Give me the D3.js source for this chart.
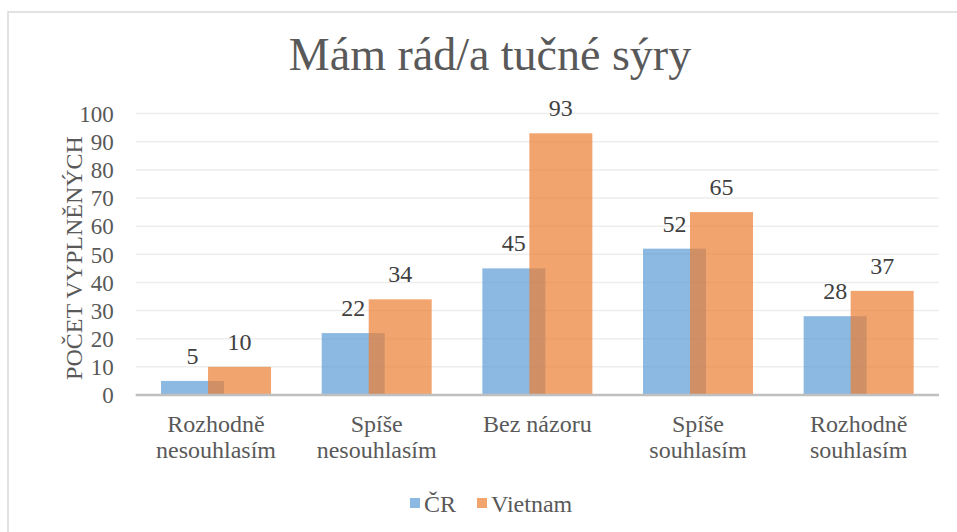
<!DOCTYPE html>
<html><head><meta charset="utf-8">
<script src="https://cdn.jsdelivr.net/npm/d3@7"></script>
<style>body{margin:0;background:#fff}svg{display:block}svg text{font-family:"Liberation Serif","Times New Roman",serif}</style>
</head><body>
<script>
const categories = [["Rozhodně","nesouhlasím"],["Spíše","nesouhlasím"],["Bez názoru"],["Spíše","souhlasím"],["Rozhodně","souhlasím"]];
const seriesNames = ["ČR","Vietnam"];
const cr = [5,22,45,52,28];
const vietnam = [10,34,93,65,37];
const yTicks = [0,10,20,30,40,50,60,70,80,90,100];
const colors = ["#5B9BD5","#ED7D31"];

(function(){
const W=957,H=532;
const svg=d3.select("body").append("svg").attr("width",W).attr("height",H);
svg.append("rect").attr("x",8).attr("y",12).attr("width",W).attr("height",H).attr("fill","#fff").attr("stroke","#D9D9D9").attr("stroke-width",1.5);

const pL=135.7,pR=939,pT=113.6,pB=395;
const x=d3.scaleBand().domain(d3.range(categories.length)).range([pL,pR]);
const y=d3.scaleLinear().domain([0,100]).range([pB,pT]);

svg.append("g").selectAll("line").data(yTicks.filter(d=>d>0)).join("line")
 .attr("x1",pL).attr("x2",pR).attr("y1",d=>y(d)).attr("y2",d=>y(d))
 .attr("stroke","#EDEDED").attr("stroke-width",1.5);

const ya=d3.axisLeft(y).tickValues(yTicks).tickSize(0).tickPadding(22);
const gy=svg.append("g").attr("transform",`translate(${pL},0)`).call(ya);
gy.select(".domain").remove();
gy.selectAll("text").style("font-size","23px").attr("fill","#595959").attr("dy","0.34em");

const bw=63, off=47;
const bx0=i=>x(i)+x.bandwidth()/2-55;
svg.append("g").selectAll("rect").data(cr).join("rect")
 .attr("x",(d,i)=>bx0(i)).attr("width",bw).attr("y",d=>y(d)).attr("height",d=>pB-y(d))
 .attr("fill",colors[0]).attr("fill-opacity",0.7);
svg.append("g").selectAll("rect").data(vietnam).join("rect")
 .attr("x",(d,i)=>bx0(i)+off).attr("width",bw).attr("y",d=>y(d)).attr("height",d=>pB-y(d))
 .attr("fill",colors[1]).attr("fill-opacity",0.7);

svg.append("g").selectAll("text").data(cr).join("text")
 .attr("x",(d,i)=>bx0(i)+bw/2).attr("y",d=>y(d)-17).attr("text-anchor","middle")
 .style("font-size","24px").attr("fill","#404040").text(d=>d);
svg.append("g").selectAll("text").data(vietnam).join("text")
 .attr("x",(d,i)=>bx0(i)+off+bw/2).attr("y",d=>y(d)-17).attr("text-anchor","middle")
 .style("font-size","24px").attr("fill","#404040").text(d=>d);

svg.append("line").attr("x1",pL).attr("x2",pR).attr("y1",pB).attr("y2",pB)
 .attr("stroke","#BFBFBF").attr("stroke-width",2.5);

categories.forEach((c,i)=>{
  const cx=x(i)+x.bandwidth()/2;
  const t=svg.append("text").attr("x",cx).attr("y",432)
   .attr("text-anchor","middle").style("font-size","24px").attr("fill","#595959");
  c.forEach((s,j)=>t.append("tspan").attr("x",cx).attr("dy",j?26:0).text(s));
});

svg.append("text").attr("x",490).attr("y",70).attr("text-anchor","middle")
 .style("font-size","46px").attr("fill","#595959").text("Mám rád/a tučné sýry");

svg.append("text").attr("transform",`translate(82,258) rotate(-90)`).attr("text-anchor","middle")
 .style("font-size","24px").attr("fill","#595959").text("POČET VYPLNĚNÝCH");

const lg=svg.append("g");
const lx=[410,477];
seriesNames.forEach((n,i)=>{
  lg.append("rect").attr("x",lx[i]).attr("y",498).attr("width",10).attr("height",10).attr("fill",colors[i]).attr("fill-opacity",0.7);
  lg.append("text").attr("x",lx[i]+14).attr("y",512).style("font-size","24px").attr("fill","#595959").text(n);
});
})();
</script>
</body></html>
